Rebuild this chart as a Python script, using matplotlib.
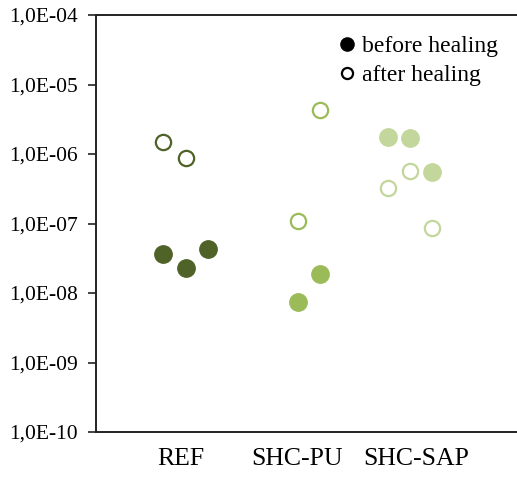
import matplotlib
matplotlib.use("Agg")
import matplotlib.pyplot as plt
from matplotlib.lines import Line2D
from matplotlib.ticker import FixedLocator, NullLocator

plt.rcParams['font.family'] = ['Liberation Serif', 'DejaVu Serif']

categories = ["REF", "SHC-PU", "SHC-SAP"]
category_label_x = [3.77, 8.97, 14.26]
colors = ["#4F6228", "#9BBB59", "#C3D69B"]

ref_x = [3, 4, 5]
ref_before = [3.64e-8, 2.29e-8, 4.23e-8]
ref_after_x = [3, 4]
ref_after = [1.51e-6, 8.9e-7]

pu_before_x = [9, 10]
pu_before = [7.4e-9, 1.85e-8]
pu_after_x = [9, 10]
pu_after = [1.07e-7, 4.36e-6]

sap_x = [13, 14, 15]
sap_before = [1.76e-6, 1.70e-6, 5.5e-7]
sap_after = [3.24e-7, 5.69e-7, 8.6e-8]

ytick_vals = [1e-10, 1e-9, 1e-8, 1e-7, 1e-6, 1e-5, 1e-4]
ytick_labels = ["1,0E-10", "1,0E-09", "1,0E-08", "1,0E-07", "1,0E-06", "1,0E-05", "1,0E-04"]
legend_labels = ["before healing", "after healing"]

W, H = 517, 479
fig = plt.figure(figsize=(W/100, H/100), dpi=100)
ax = fig.add_axes([96/W, 1 - 432/H, (W - 96)/W + 0.01, (432 - 15)/H])

ms = 12.5
mew = 1.6
filled = [(ref_x, ref_before, colors[0]), (pu_before_x, pu_before, colors[1]), (sap_x, sap_before, colors[2])]
opens = [(ref_after_x, ref_after, colors[0]), (pu_after_x, pu_after, colors[1]), (sap_x, sap_after, colors[2])]
for xs, ys, c in filled:
    ax.plot(xs, ys, linestyle='none', marker='o', markersize=ms, color=c, markeredgecolor=c)
for xs, ys, c in opens:
    ax.plot(xs, ys, linestyle='none', marker='o', markersize=ms - 1.5, markerfacecolor='white',
            markeredgecolor=c, markeredgewidth=mew)

ax.set_yscale('log')
ax.set_ylim(1e-10, 1e-4)
ax.set_xlim(0, 19)
ax.yaxis.set_major_locator(FixedLocator(ytick_vals))
ax.yaxis.set_minor_locator(NullLocator())
ax.set_yticklabels(ytick_labels)
ax.set_xticks(category_label_x)
ax.set_xticklabels(categories)
ax.tick_params(axis='x', length=0, pad=11.5, labelsize=18.5)
ax.tick_params(axis='y', length=6, width=1.2, direction='out', labelsize=15.5, pad=7, colors='#222222')
ax.tick_params(axis='y', labelcolor='black')
ax.spines['right'].set_visible(False)
for s in ['left', 'top', 'bottom']:
    ax.spines[s].set_linewidth(1.4)
    ax.spines[s].set_color('#222222')

# legend drawn manually in figure coordinates
leg_rows_y = [44, 73]
fig.add_artist(Line2D([347/W], [1 - leg_rows_y[0]/H], transform=fig.transFigure, linestyle='none',
                      marker='o', markersize=9.5, color='black'))
fig.add_artist(Line2D([347/W], [1 - leg_rows_y[1]/H], transform=fig.transFigure, linestyle='none',
                      marker='o', markersize=8, markerfacecolor='white', markeredgecolor='black',
                      markeredgewidth=1.6))
for lbl, yy in zip(legend_labels, leg_rows_y):
    fig.text(362/W, 1 - yy/H, lbl, fontsize=17, va='center_baseline', ha='left')

fig.savefig("out.png", dpi=100)
